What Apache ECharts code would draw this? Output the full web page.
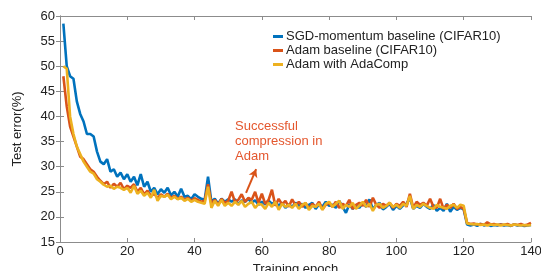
<!DOCTYPE html>
<html><head><meta charset="utf-8">
<script src="https://cdn.jsdelivr.net/npm/echarts@6/dist/echarts.min.js"></script>
<style>html,body{margin:0;padding:0;background:#fff}#c{width:541px;height:271px}</style>
</head><body><div id="c"></div>
<script>
const seriesNames = ['SGD-momentum baseline (CIFAR10)', 'Adam baseline (CIFAR10)', 'Adam with AdaComp'];
const xTicks = [0, 20, 40, 60, 80, 100, 120, 140];
const yTicks = [15, 20, 25, 30, 35, 40, 45, 50, 55, 60];
const sgd = [58.5,50,48,47.5,43,40.5,39,36.5,36.5,36,
33,31,30.5,31.5,29,29.5,28,28.8,27.5,28.5,
27,28,26.3,28.5,26,27,25,25.8,24.5,25.5,
24.8,25.8,24.3,25,24,25.6,24,24.2,23.5,24.5,
24,23.6,23.4,28,23,23.6,22.6,23.6,23,23.5,
23,23.5,22.5,23.3,23,23.6,22.8,23.3,22.4,23,
22.5,23.2,22.6,23,22.2,22.8,21.8,22.5,22,22.8,
22.2,22.6,21.8,22.4,22.8,21.6,22.5,22,23,22.2,
22.4,21.8,23.2,22,20.8,22.5,21.6,22.2,21.8,22.8,
22,23.5,21.5,22.4,22.8,21.5,22,22.6,21.4,22.2,
21.6,22.3,22.6,23.8,21.6,22.2,21.8,22.6,22,21.6,
22.4,21.2,21.8,21.2,22.6,21,22,21.4,21.8,21.5,
18.5,18.3,18.5,18.2,18.6,18.3,18.5,18.2,18.4,18.3,
18.5,18.3,18.4,18.2,18.5,18.3,18.4,18.2,18.3,18.4];
const adam = [48,42,38,36,34,32,31.5,30.5,29.5,29,
28,27.2,26.5,27,25.8,26.6,26,26.8,25.5,26.2,
25.8,26.5,25,25.8,24.5,25.2,24.2,24.6,23.8,24.5,
24,24.6,23.8,24.2,23.6,24,23.4,23.8,23.2,23.7,
23.4,23,23.2,26.5,22.6,23.4,22.4,23.6,22.8,23.2,
25,23,23.4,24.5,23,23.8,23.4,25,22.8,24.6,
22.6,23.4,25.4,22.2,23.6,22.5,23.2,22,23.5,22.3,
23,22,22.8,21.6,22.6,22,23,21.5,22.4,22.8,
22,23,21.8,22.6,22.2,23.4,21.6,22.4,22.8,22.2,
23.4,22,23.8,22.4,21.8,22.6,22.2,22.8,21.8,22.6,
22.2,23,22,24.6,21.8,23,22.4,22.8,22.2,23.6,
22,21.8,23.6,21.6,22.4,21.8,22.6,21.6,22,21.6,
18.8,18.6,18.7,18.5,18.6,18.4,18.9,18.5,18.6,18.4,
18.5,18.4,18.6,18.3,18.5,18.4,18.6,18.3,18.5,18.8];
const adacomp = [50,49.5,40,36.5,34,32.5,31,30,29,28.6,
27.5,27,26.4,26,26.2,25.6,26,25.8,25.4,25.8,
24.8,26.2,24.6,25.2,24.2,24.8,23.8,25.4,23.2,24.2,
24,24.4,23.5,24,23.5,23.8,23.2,23.6,23,23.4,
23,22.8,22.6,26,21.8,23.2,22.2,23.4,22.2,22.8,
22.2,23,22.4,23.2,22,22.6,23,21.8,22.6,22.4,
21.6,22.8,22,23,21.4,22.6,22,22.4,21.8,22.6,
21.6,22.4,22.8,21.4,22.2,22,22.6,21.4,22.6,23,
22,22.6,23.2,21.6,22.4,22,22.8,21.6,22.2,23,
22,22.6,21.2,22.4,22.6,21.8,22.2,22.8,22,22.4,
21.8,22.6,22.2,24.2,21.6,22.4,22,22.6,22.2,21.8,
21.6,22.4,22,21.8,21.6,22.2,22.4,21.8,22.4,22.2,
18.7,18.6,18.5,18.6,18.4,18.5,18.3,18.5,18.4,18.5,
18.3,18.5,18.4,18.3,18.5,18.4,18.3,18.4,18.3,18.4];
const annotation = ['Successful', 'compression in', 'Adam'];
const arrowFrom = [55.3, 24.8];
const arrowTo = [58.3, 29.5];

const colors = ['#0072BD', '#D95319', '#EDB120'];
const font = 'Liberation Sans, Arial, Helvetica, sans-serif';
function toPts(arr){ return arr.map((v,i)=>[i+1, v]); }
const chart = echarts.init(document.getElementById('c'), null, {renderer:'canvas'});
const axLine = {show:true, lineStyle:{color:'#8c8c8c', width:1}};
const tick = {show:true, inside:true, length:4, lineStyle:{color:'#8c8c8c'}};
const xmin = xTicks[0], xmax = xTicks[xTicks.length-1];
const ymin = yTicks[0], ymax = yTicks[yTicks.length-1];
chart.setOption({
  animation:false,
  backgroundColor:'#fff',
  color: colors,
  grid:{left:60, right:10, top:16, bottom:29, containLabel:false, outerBoundsMode:'none'},
  legend:{
    show:true, orient:'vertical', left:268, top:25, itemGap:1,
    itemWidth:10, itemHeight:3, icon:'rect',
    textStyle:{fontFamily:font, fontSize:13, color:'#222', padding:[0,0,0,-2]},
    data: seriesNames
  },
  xAxis:[{
    type:'value', min:xmin, max:xmax, interval:20, position:'bottom',
    name:'Training epoch', nameLocation:'middle', nameGap:19,
    nameTextStyle:{fontFamily:font, fontSize:13, color:'#222'},
    axisLine:axLine, axisTick:tick, splitLine:{show:false},
    axisLabel:{fontFamily:font, fontSize:13, color:'#222', margin:3}
  },{
    type:'value', min:xmin, max:xmax, interval:20, position:'top',
    axisLine:axLine, axisTick:tick, splitLine:{show:false}, axisLabel:{show:false}
  }],
  yAxis:[{
    type:'value', min:ymin, max:ymax, interval:5,
    name:'Test error(%)', nameLocation:'middle', nameGap:36, nameRotate:90,
    nameTextStyle:{fontFamily:font, fontSize:13, color:'#222'},
    axisLine:axLine, axisTick:tick, splitLine:{show:false},
    axisLabel:{fontFamily:font, fontSize:13, color:'#222', margin:5}
  },{
    type:'value', min:ymin, max:ymax, interval:5, position:'right',
    axisLine:axLine, axisTick:tick, splitLine:{show:false}, axisLabel:{show:false}
  }],
  series:[
    {name:seriesNames[0], type:'line', data:toPts(sgd), showSymbol:false, lineStyle:{width:2.6, color:colors[0]}, itemStyle:{color:colors[0]}, z:1},
    {name:seriesNames[1], type:'line', data:toPts(adam), showSymbol:false, lineStyle:{width:2.6, color:colors[1]}, itemStyle:{color:colors[1]}, z:2,
      markLine:{silent:true, symbol:['none','arrow'], symbolSize:[7,8],
        lineStyle:{color:colors[1], width:2, type:'solid'}, label:{show:false},
        data:[[{coord:arrowFrom},{coord:arrowTo}]]}},
    {name:seriesNames[2], type:'line', data:toPts(adacomp), showSymbol:false, lineStyle:{width:2.6, color:colors[2]}, itemStyle:{color:colors[2]}, z:3}
  ],
  graphic:[{
    type:'text', left:235, top:119,
    style:{text: annotation.join('\n'), fill:'#E4572E', font:'13px '+font, lineHeight:15}
  }]
});
</script></body></html>
